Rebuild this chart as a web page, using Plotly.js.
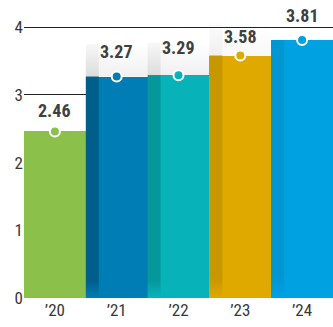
<!DOCTYPE html>
<html>
<head>
<meta charset="utf-8">
<script src="https://cdn.plot.ly/plotly-3.0.1.min.js"></script>
<style>
  html, body { margin: 0; padding: 0; background: #fff; }
  #chart { width: 333px; height: 327px; }
</style>
</head>
<body>
<div id="chart"></div>
<script>
// Yearly values
const years = ['\u201920', '\u201921', '\u201922', '\u201923', '\u201924'];
const values = [2.46, 3.27, 3.29, 3.58, 3.81];
const yTicks = [0, 1, 2, 3, 4];

// Styling
const barColors = ['#8BC14A', '#007DB5', '#07B3B9', '#E0A900', '#00A1E1'];
const stripColors = [null, '#005E8A', '#06979B', '#C79700', '#0096D2'];
const glowStrength = [0, 1, 1, 0.45, 0];
const labelLift = [21, 25, 28, 19, 24];
const stripWidth = 0.21;
const glowHeight = 0.48;
const FONT = '"Roboto Condensed", "Liberation Sans Narrow", "Roboto", "Liberation Sans", sans-serif';

const xs = values.map((_, i) => i);
const traces = [];

// main bars
traces.push({
  type: 'bar',
  x: xs,
  y: values,
  width: 1,
  marker: { color: barColors, line: { width: 0 } },
  hoverinfo: 'skip'
});

// darker left strip on each bar, fading into the bar colour at the base
values.forEach((v, i) => {
  if (!stripColors[i]) return;
  const x0 = i - 0.5, x1 = i - 0.5 + stripWidth;
  traces.push({
    type: 'scatter', mode: 'none',
    x: [x0, x1, x1, x0, x0],
    y: [0, 0, v, v, 0],
    fill: 'toself',
    fillgradient: {
      type: 'vertical',
      colorscale: [[0, barColors[i]], [0.08, stripColors[i]], [1, stripColors[i]]]
    },
    hoverinfo: 'skip'
  });
});

// soft grey haze above the bar tops
values.forEach((v, i) => {
  const s = glowStrength[i];
  if (!s) return;
  const x0 = i - 0.5, x1 = i + 0.5, xs1 = i - 0.5 + stripWidth;
  traces.push({
    type: 'scatter', mode: 'none',
    x: [x0, x1, x1, x0, x0],
    y: [v, v, v + glowHeight, v + glowHeight, v],
    fill: 'toself',
    fillgradient: {
      type: 'vertical',
      colorscale: [[0, 'rgba(0,0,0,' + (0.06 * s) + ')'], [1, 'rgba(0,0,0,0)']]
    },
    hoverinfo: 'skip'
  });
  traces.push({
    type: 'scatter', mode: 'none',
    x: [x0, xs1, xs1, x0, x0],
    y: [v, v, v + glowHeight, v + glowHeight, v],
    fill: 'toself',
    fillgradient: {
      type: 'vertical',
      colorscale: [[0, 'rgba(0,0,0,' + (0.08 * s) + ')'], [1, 'rgba(0,0,0,' + (0.03 * s) + ')']]
    },
    hoverinfo: 'skip'
  });
});

// value markers
traces.push({
  type: 'scatter', mode: 'markers',
  x: xs, y: values,
  marker: { size: 10, color: barColors, line: { color: '#ffffff', width: 2 } },
  hoverinfo: 'skip'
});

const annotations = values.map((v, i) => ({
  x: i, y: v, xref: 'x', yref: 'y',
  text: v.toFixed(2),
  showarrow: false,
  yshift: labelLift[i],
  font: { family: FONT, size: 18, color: '#404040', weight: 'bold' }
}));

const layout = {
  width: 333, height: 327,
  margin: { l: 24, r: 0, t: 0, b: 29 },
  paper_bgcolor: '#ffffff', plot_bgcolor: '#ffffff',
  showlegend: false,
  xaxis: {
    range: [-0.5, 4.5],
    tickvals: xs, ticktext: years,
    showgrid: false, zeroline: false, showline: false,
    ticks: '', fixedrange: true,
    tickfont: { family: FONT, size: 17, color: '#383838' }
  },
  yaxis: {
    range: [0, 4.4],
    tickvals: yTicks, ticktext: yTicks.map(String),
    showgrid: true, gridcolor: '#222222', gridwidth: 1,
    zeroline: false, showline: false, ticks: '', fixedrange: true,
    tickfont: { family: FONT, size: 17, color: '#383838' }
  },
  annotations: annotations,
  bargap: 0
};

Plotly.newPlot('chart', traces, layout, { displayModeBar: false, staticPlot: true });
</script>
</body>
</html>
